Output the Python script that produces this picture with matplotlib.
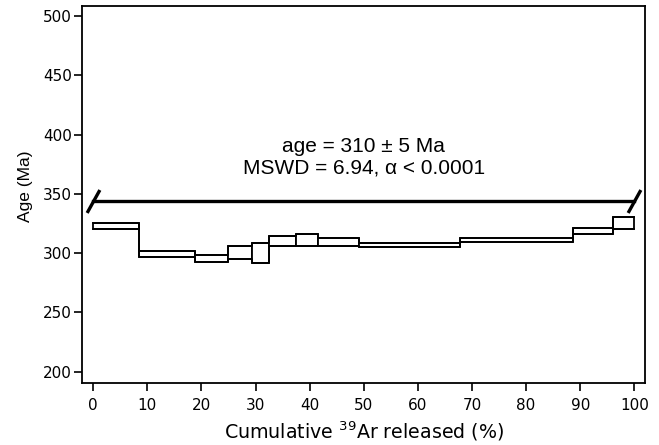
import numpy as np
import matplotlib
matplotlib.use('Agg')
import matplotlib.pyplot as plt

# step boundaries (cumulative 39Ar %) and apparent ages of each step
cum_ar = [0, 8.4, 18.8, 25.0, 29.4, 32.5, 37.5, 41.5, 49.1, 67.7, 88.6, 96.0, 100]
step_age = [322.7, 299.5, 295.7, 300.2, 300.1, 310.5, 311.1, 309.3, 306.9, 311.0, 318.8, 325.3]
step_err = [2.5, 2.5, 3.0, 5.5, 8.2, 4.2, 5.0, 3.3, 1.7, 1.8, 2.7, 4.9]

plateau_start, plateau_end = 0, 100
plateau_level = 343.7
plateau_age, plateau_err = 310, 5
mswd = 6.94
p_value = "< 0.0001"

xticks = np.arange(0, 101, 10)
yticks = np.arange(200, 501, 50)

fig = plt.figure(figsize=(6.59, 4.45), dpi=100)
ax = fig.add_axes([0.125, 0.1393, 0.854, 0.8472])

x = np.array(cum_ar)
age = np.array(step_age)
err = np.array(step_err)
widths = np.diff(x)

# boxes for each step
ax.bar(x[:-1], 2*err, width=widths, bottom=age-err, align='edge',
       facecolor='white', edgecolor='black', linewidth=1.3, zorder=2)
# staircase lines joining the steps
hi = np.append(age+err, (age+err)[-1])
lo = np.append(age-err, (age-err)[-1])
ax.step(x, hi, where='post', color='black', lw=1.3, zorder=3)
ax.step(x, lo, where='post', color='black', lw=1.3, zorder=3)

# plateau bar with slanted ends
ax.plot([plateau_start, plateau_end], [plateau_level, plateau_level], color='black', lw=2.4, zorder=4)
slash = [(-0.555, -1), (0.555, 1)]
ax.plot([plateau_start, plateau_end], [plateau_level, plateau_level], linestyle='None',
        marker=slash, markersize=16.5, markeredgewidth=2.4, color='black', zorder=4)

label = "age = %d ± %d Ma\nMSWD = %.2f, α %s" % (plateau_age, plateau_err, mswd, p_value)
ax.text((plateau_start+plateau_end)/2, plateau_level+37, label, ha='center', va='center',
        fontsize=15, family='Liberation Sans', linespacing=1.2)

ax.set_xlim(-2, 102)
ax.set_ylim(190.5, 508.4)
ax.set_xticks(xticks)
ax.set_yticks(yticks)
ax.tick_params(axis='both', direction='out', length=6, width=1.2, labelsize=11)
ax.tick_params(axis='x', pad=4.5)
ax.tick_params(axis='y', pad=1.5)
for s in ax.spines.values():
    s.set_linewidth(1.3)

ax.set_xlabel(r"Cumulative $^{39}$Ar released (%)", fontsize=13.7, labelpad=5)
ax.set_ylabel("Age (Ma)", fontsize=12.5, family='Liberation Sans')
ax.yaxis.set_label_coords(-0.088, 0.5225)

fig.savefig('out.png', dpi=100)
